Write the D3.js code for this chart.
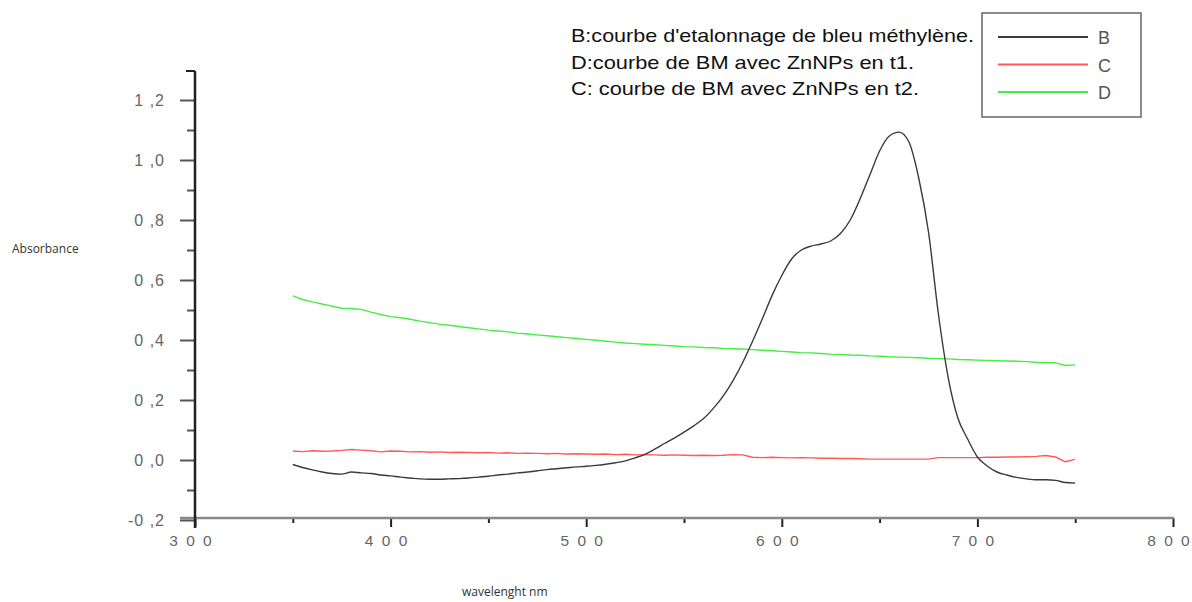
<!DOCTYPE html>
<html>
<head>
<meta charset="utf-8">
<script src="https://cdn.jsdelivr.net/npm/d3@7"></script>
<style>
  html, body { margin: 0; padding: 0; background: #fff; }
  svg { display: block; }
</style>
</head>
<body>
<svg id="chart" width="1192" height="602"></svg>
<script>
// Wavelength grid (nm), 5 nm step
const wavelengths = d3.range(350, 751, 5);

// B: calibration curve of methylene blue
const seriesB = [
  -0.015, -0.025, -0.033, -0.040, -0.045, -0.047, -0.040, -0.043, -0.045, -0.050,
  -0.053, -0.057, -0.060, -0.063, -0.064, -0.064, -0.063, -0.062, -0.060, -0.057,
  -0.054, -0.050, -0.047, -0.043, -0.040, -0.036, -0.032, -0.029, -0.026, -0.023,
  -0.021, -0.018, -0.014, -0.009, -0.003, 0.007, 0.019, 0.036, 0.055, 0.073,
  0.093, 0.114, 0.138, 0.172, 0.213, 0.264, 0.325, 0.395, 0.470, 0.548,
  0.615, 0.670, 0.700, 0.713, 0.720, 0.730, 0.755, 0.800, 0.870, 0.950,
  1.030, 1.080, 1.093, 1.060, 0.940, 0.760, 0.490, 0.277, 0.140, 0.070,
  0.010, -0.020, -0.040, -0.050, -0.058, -0.063, -0.066, -0.066, -0.068, -0.075,
  -0.077
];

// C: BM with ZnNPs at t2
const seriesC = [
  0.030, 0.028, 0.031, 0.029, 0.030, 0.032, 0.035, 0.033, 0.031, 0.027,
  0.030, 0.029, 0.027, 0.028, 0.026, 0.027, 0.025, 0.026, 0.025, 0.024,
  0.025, 0.023, 0.024, 0.022, 0.023, 0.022, 0.021, 0.022, 0.020, 0.021,
  0.020, 0.019, 0.020, 0.018, 0.019, 0.017, 0.018, 0.017, 0.016, 0.017,
  0.016, 0.015, 0.016, 0.015, 0.016, 0.018, 0.017, 0.009, 0.008, 0.009,
  0.008, 0.007, 0.008, 0.007, 0.006, 0.006, 0.005, 0.005, 0.004, 0.003,
  0.003, 0.003, 0.003, 0.003, 0.003, 0.003, 0.008, 0.008, 0.008, 0.008,
  0.008, 0.009, 0.009, 0.010, 0.010, 0.011, 0.012, 0.015, 0.010, -0.006,
  0.002
];

// D: BM with ZnNPs at t1
const seriesD = [
  0.547, 0.535, 0.527, 0.520, 0.513, 0.506, 0.505, 0.502, 0.493, 0.485,
  0.478, 0.474, 0.469, 0.463, 0.458, 0.453, 0.449, 0.445, 0.441, 0.437,
  0.433, 0.430, 0.427, 0.423, 0.420, 0.417, 0.414, 0.411, 0.408, 0.405,
  0.402, 0.399, 0.396, 0.393, 0.390, 0.388, 0.386, 0.384, 0.382, 0.380,
  0.378, 0.377, 0.375, 0.374, 0.372, 0.371, 0.370, 0.368, 0.366, 0.364,
  0.362, 0.360, 0.358, 0.357, 0.355, 0.353, 0.352, 0.350, 0.349, 0.347,
  0.346, 0.344, 0.343, 0.342, 0.341, 0.339, 0.338, 0.337, 0.335, 0.334,
  0.333, 0.332, 0.331, 0.330, 0.329, 0.328, 0.326, 0.325, 0.324, 0.315,
  0.317
];

const seriesNames = ["B", "C", "D"];
const seriesColors = ["#3a3a3a", "#ff5a5a", "#44ee44"];

const xTickValues = [300, 400, 500, 600, 700, 800];
const xTickLabels = ["3 0 0", "4 0 0", "5 0 0", "6 0 0", "7 0 0", "8 0 0"];
const yTickValues = [-0.2, 0.0, 0.2, 0.4, 0.6, 0.8, 1.0, 1.2];
const yTickLabels = ["-0 ,2", "0 ,0", "0 ,2", "0 ,4", "0 ,6", "0 ,8", "1 ,0", "1 ,2"];

const noteLines = [
  "B:courbe d'etalonnage de bleu méthylène.",
  "D:courbe de BM avec ZnNPs en t1.",
  "C: courbe de BM avec ZnNPs en t2."
];
const noteWidths = [403, 343, 348];

const svg = d3.select("#chart");

const x = d3.scaleLinear().domain([300, 800]).range([195, 1173]);
const y = d3.scaleLinear().domain([-0.2, 1.3]).range([520, 70]);

const tickFont = "'Liberation Sans', Arial, sans-serif";

// x axis (ticks downward)
const xAxisMajor = d3.axisBottom(x)
  .tickValues(xTickValues)
  .tickSize(9)
  .tickFormat((d, i) => xTickLabels[i]);
const gx = svg.append("g").attr("transform", `translate(0,${y(-0.2) - 2})`).call(xAxisMajor);
gx.select(".domain").remove();
gx.selectAll(".tick line").attr("stroke", "#222").attr("stroke-width", 2);
gx.selectAll(".tick text")
  .attr("y", 17)
  .attr("dx", -4)
  .attr("fill", "#666")
  .style("font-family", tickFont)
  .style("font-size", "15.5px")
  .style("letter-spacing", "2px");

const xMinor = d3.axisBottom(x)
  .tickValues(d3.range(350, 800, 100))
  .tickSize(5)
  .tickFormat("");
const gxm = svg.append("g").attr("transform", `translate(0,${y(-0.2) - 2})`).call(xMinor);
gxm.select(".domain").remove();
gxm.selectAll(".tick line").attr("stroke", "#222").attr("stroke-width", 2);

svg.append("line")
  .attr("x1", 180).attr("x2", x(800) + 1)
  .attr("y1", y(-0.2) - 2).attr("y2", y(-0.2) - 2)
  .attr("stroke", "#888").attr("stroke-width", 2.5);

// y axis (ticks leftward)
const yAxisMajor = d3.axisLeft(y)
  .tickValues(yTickValues)
  .tickSize(15)
  .tickFormat((d, i) => yTickLabels[i]);
const gy = svg.append("g").attr("transform", `translate(${x(300)},0)`).call(yAxisMajor);
gy.select(".domain").remove();
gy.selectAll(".tick line").attr("stroke", "#555").attr("stroke-width", 2);
gy.selectAll(".tick text")
  .attr("x", -30)
  .attr("fill", "#666")
  .style("font-family", tickFont)
  .style("font-size", "16px")
  .style("letter-spacing", "1px");

const yMinor = d3.axisLeft(y)
  .tickValues(d3.range(-0.1, 1.25, 0.2))
  .tickSize(8)
  .tickFormat("");
const gym = svg.append("g").attr("transform", `translate(${x(300)},0)`).call(yMinor);
gym.select(".domain").remove();
gym.selectAll(".tick line").attr("stroke", "#555").attr("stroke-width", 2);

svg.append("line")
  .attr("x1", x(300)).attr("x2", x(300))
  .attr("y1", 71).attr("y2", y(-0.2) + 8)
  .attr("stroke", "#222").attr("stroke-width", 2.5);
svg.append("line")
  .attr("x1", x(300) - 9).attr("x2", x(300))
  .attr("y1", 71).attr("y2", 71)
  .attr("stroke", "#222").attr("stroke-width", 2);

// Axis titles
svg.append("text")
  .attr("x", 12).attr("y", 253)
  .attr("fill", "#333")
  .style("font-family", "'Open Sans', sans-serif")
  .style("font-size", "12px")
  .text("Absorbance");
svg.append("text")
  .attr("x", 462).attr("y", 596)
  .attr("fill", "#333")
  .style("font-family", "'Open Sans', sans-serif")
  .style("font-size", "12px")
  .text("wavelenght nm");

// Spectra
const allSeries = [seriesB, seriesC, seriesD];
const line = d3.line()
  .x((d, i) => x(wavelengths[i]))
  .y(d => y(d));

[2, 1, 0].forEach(k => {
  svg.append("path")
    .datum(allSeries[k])
    .attr("fill", "none")
    .attr("stroke", seriesColors[k])
    .attr("stroke-width", 1.4)
    .attr("stroke-linejoin", "round")
    .attr("d", k === 0 ? line.curve(d3.curveMonotoneX)(allSeries[k]) : line.curve(d3.curveLinear)(allSeries[k]));
});

// Description lines
noteLines.forEach((t, i) => {
  svg.append("text")
    .attr("x", 571).attr("y", 42 + i * 26.5)
    .attr("fill", "#111")
    .attr("textLength", noteWidths[i])
    .attr("lengthAdjust", "spacingAndGlyphs")
    .style("font-family", tickFont)
    .style("font-size", "18.5px")
    .text(t);
});

// Legend box
svg.append("rect")
  .attr("x", 982).attr("y", 13)
  .attr("width", 159).attr("height", 104)
  .attr("fill", "none")
  .attr("stroke", "#666").attr("stroke-width", 1.5);

seriesNames.forEach((n, i) => {
  const ly = 37 + i * 27.5;
  svg.append("line")
    .attr("x1", 998).attr("x2", 1088)
    .attr("y1", ly).attr("y2", ly)
    .attr("stroke", seriesColors[i]).attr("stroke-width", 2);
  svg.append("text")
    .attr("x", 1098).attr("y", ly + 7)
    .attr("fill", "#555")
    .style("font-family", tickFont)
    .style("font-size", "18px")
    .text(n);
});
</script>
</body>
</html>
